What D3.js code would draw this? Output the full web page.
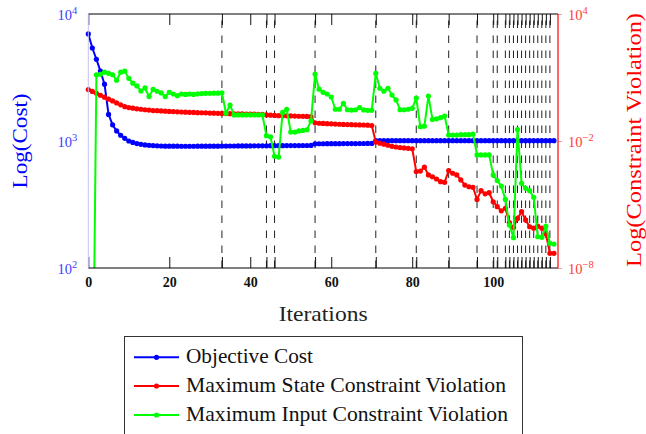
<!DOCTYPE html>
<html><head><meta charset="utf-8">
<script src="https://cdn.jsdelivr.net/npm/d3@7"></script>
<style>body{margin:0;background:#fff}svg{display:block}</style>
</head><body>
<svg id="chart" width="646" height="434"></svg>
<script>
// ---------------- data ----------------
const iterations = d3.range(0, 116);
const objectiveCost = [
 6970,5400,4400,3550,2800,1620,1340,1200,1110,1050,
 1000,975,955,942,932,925,920,916,913,911,
 910,910,910,909,909,909,909,910,910,910,
 910,910,910,
 912,912,913,913,914,914,915,915,916,916,917,917,918,918,919,919,920,920,921,921,922,922,923,
 950,951,951,952,952,953,953,954,954,955,955,956,956,957,957,
 1005,1005,1005,1005,1005,1005,1005,1005,1005,1005,
 1005,1005,1005,1005,1005,1005,1005,1005,1005,1005,
 1005,1005,1005,1005,1005,1005,1005,1005,1005,1005,
 1005,1005,1005,1005,1005,1005,1005,1005,1005,1005,
 1005,1005,1005,1005,1005
];
const stateViolation = [
 2.7,2.2,1.8,1.45,1.17,0.95,0.78,0.63,0.51,0.42,
 0.38,0.355,0.33,0.316,0.30,0.29,0.275,0.27,0.263,0.257,
 0.25,0.245,0.24,0.234,0.229,0.226,0.224,0.219,0.216,0.214,
 0.209,0.207,0.204,0.2,0.197,0.195,0.193,0.19,0.19,0.188,
 0.186,0.186,0.184,0.182,0.17,0.166,0.162,0.158,0.157,0.155,
 0.153,0.151,0.148,0.146,0.145,0.141,0.072,0.069,0.068,0.066,
 0.065,0.063,0.062,0.061,0.060,0.059,0.058,0.0575,0.057,0.056,
 0.054,0.0089,0.0079,0.0071,0.0063,0.0056,0.0052,0.0049,0.0047,0.0045,
 0.0043,3.6e-4,3.8e-4,5.8e-4,2.5e-4,2.05e-4,1.6e-4,1.2e-4,1.12e-4,4.0e-4,
 3.0e-4,2.5e-4,1.45e-4,8.3e-5,6.9e-5,6.5e-5,1.74e-5,4.5e-5,3.2e-5,3.6e-5,
 1.35e-5,7.9e-6,5.0e-6,6.6e-6,1.38e-6,8.3e-7,2.2e-6,4.6e-6,1.86e-6,8.9e-7,
 7.6e-7,9.5e-7,7.6e-7,4.1e-7,4.9e-8,4.9e-8
];
const inputViolation = [
 null,1e-17,13.5,14.1,17.8,15.8,13.5,7.4,17.8,20,
 9.1,5.4,4.0,2.3,3.2,1.26,2.75,2.24,1.86,1.26,
 2.0,1.66,1.38,1.66,1.58,1.66,1.58,1.7,1.74,1.78,
 1.78,1.82,1.82,1.9,0.204,0.5,0.17,0.17,0.17,0.17,
 0.17,0.17,0.17,0.17,0.0178,0.0158,0.0019,0.00174,0.224,0.316,
 0.0263,0.0263,0.030,0.0316,0.034,0.089,14.5,2.8,2.0,1.66,
 1.2,0.316,0.316,0.6,0.30,0.29,0.30,0.38,0.295,0.28,
 0.28,15.8,3.1,2.24,3.1,1.48,0.87,0.30,0.30,0.316,
 0.35,1.07,0.047,0.05,1.32,0.105,0.112,0.126,0.15,0.019,
 0.019,0.019,0.02,0.02,0.02,0.0214,0.0022,0.0022,0.0022,0.0022,
 2.5e-4,1.35e-4,7.4e-5,1.74e-5,1.07e-6,2.7e-7,0.035,1e-4,5.8e-5,4.5e-5,
 2.2e-5,3.0e-7,2.8e-7,9.5e-7,1.48e-7,1.35e-7
];
const eventIterations = [33,44,46,56,71,81,89,96,100,101,103,104,105,106,107,108,109,110,111,112,113,114];
const xTicks = [0,20,40,60,80,100];
const leftTicks = [1e2,1e3,1e4];
const leftExp = ["2","3","4"];
const rightTicks = [1e-8,1e-2,1e4];
const rightExp = ["\u22128","\u22122","4"];
const seriesNames = ["Objective Cost","Maximum State Constraint Violation","Maximum Input Constraint Violation"];
const seriesColors = ["#0000ff","#ff0000","#00ff00"];

// ---------------- layout ----------------
const L = 88.3, R = 558, T = 14, B = 268;
const serif = "'Liberation Serif','Times New Roman',serif";
const svg = d3.select("#chart");
const x = d3.scaleLinear().domain([0,116]).range([L,R]);
const yL = d3.scaleLog().domain([1e2,1e4]).range([B,T]);
const yR = d3.scaleLog().domain([1e-8,1e4]).range([B,T]);
const allXTicks = Array.from(new Set(xTicks.concat(eventIterations))).sort((a,b)=>a-b);

svg.append("defs").append("clipPath").attr("id","plotclip")
  .append("rect").attr("x",L).attr("y",T).attr("width",R-L).attr("height",B-T);

// dashed event grid lines
svg.append("g").selectAll("line").data(eventIterations).join("line")
  .attr("x1",d=>x(d)).attr("x2",d=>x(d)).attr("y1",B).attr("y2",T)
  .attr("stroke","#222").attr("stroke-width",1).attr("stroke-dasharray","7.5,7.5");

// x axes (bottom with labels, top without)
const xb = svg.append("g").attr("transform",`translate(0,${B})`)
  .call(d3.axisBottom(x).tickValues(allXTicks).tickSizeInner(-11).tickSizeOuter(0)
        .tickFormat(d=>xTicks.includes(d)?d:""));
xb.select(".domain").remove();
xb.selectAll(".tick line").attr("stroke","#111").attr("stroke-width",1);
xb.selectAll("text").attr("y",19).attr("dy",0).attr("font-family",serif).attr("font-size",14)
  .attr("font-weight","bold").attr("fill","#111");
const xt = svg.append("g").attr("transform",`translate(0,${T})`)
  .call(d3.axisTop(x).tickValues(allXTicks).tickSizeInner(-11).tickSizeOuter(0).tickFormat(""));
xt.select(".domain").remove();
xt.selectAll(".tick line").attr("stroke","#111").attr("stroke-width",1);

// left axis labels
const yl = svg.append("g").attr("transform",`translate(${L},0)`)
  .call(d3.axisLeft(yL).tickValues(leftTicks).tickSize(0).tickPadding(11).tickFormat(""));
yl.select(".domain").remove();
yl.selectAll(".tick text").each(function(d,i){
  const t = d3.select(this).attr("dy",5.5).attr("font-family",serif).attr("font-size",14.5).attr("fill","#3c3cff");
  t.append("tspan").text("10");
  t.append("tspan").attr("dy",-6).attr("font-size",10.5).text(leftExp[i]);
});
// right axis labels
const yr = svg.append("g").attr("transform",`translate(${R},0)`)
  .call(d3.axisRight(yR).tickValues(rightTicks).tickSizeInner(4).tickSizeOuter(0).tickPadding(6).tickFormat(""));
yr.select(".domain").remove();
yr.selectAll(".tick line").attr("stroke","#ff9a9a");
yr.selectAll(".tick text").each(function(d,i){
  const t = d3.select(this).attr("dy",5.5).attr("font-family",serif).attr("font-size",14.5).attr("fill","#ff3c3c");
  t.append("tspan").text("10");
  t.append("tspan").attr("dy",-6).attr("font-size",10.5).text(rightExp[i]);
});

// series
function drawSeries(values, yScale, color){
  const pts = iterations.map((it,i)=>({it, v: values[i]})).filter(d=>d.v!=null);
  const line = d3.line().x(d=>x(d.it)).y(d=>yScale(d.v));
  svg.append("path").datum(pts).attr("clip-path","url(#plotclip)")
    .attr("d",line).attr("fill","none").attr("stroke",color).attr("stroke-width",2).attr("stroke-linejoin","round");
  const dom = yScale.domain();
  svg.append("g").selectAll("circle").data(pts.filter(d=>d.v>=dom[0]&&d.v<=dom[1])).join("circle")
    .attr("cx",d=>x(d.it)).attr("cy",d=>yScale(d.v)).attr("r",2.6).attr("fill",color);
}
drawSeries(objectiveCost, yL, seriesColors[0]);
drawSeries(stateViolation, yR, seriesColors[1]);
drawSeries(inputViolation, yR, seriesColors[2]);

// frame
svg.append("line").attr("x1",L).attr("x2",R).attr("y1",T).attr("y2",T).attr("stroke","#000").attr("stroke-width",1);
svg.append("line").attr("x1",L).attr("x2",R).attr("y1",B).attr("y2",B).attr("stroke","#000").attr("stroke-width",1);
svg.append("line").attr("x1",L).attr("x2",L).attr("y1",T).attr("y2",B).attr("stroke","#c4c4f4").attr("stroke-width",1);
svg.append("line").attr("x1",R).attr("x2",R).attr("y1",T).attr("y2",B).attr("stroke","#ff0000").attr("stroke-width",1.2);

// titles
svg.append("text").attr("transform","translate(27,141) rotate(-90)").attr("text-anchor","middle")
  .attr("font-family",serif).attr("font-size",22).attr("fill","#0000ff")
  .attr("textLength",95).attr("lengthAdjust","spacingAndGlyphs").text("Log(Cost)");
svg.append("text").attr("transform","translate(641,140) rotate(-90)").attr("text-anchor","middle")
  .attr("font-family",serif).attr("font-size",21).attr("fill","#ff0000")
  .attr("textLength",254).attr("lengthAdjust","spacingAndGlyphs").text("Log(Constraint Violation)");
svg.append("text").attr("x",(L+R)/2).attr("y",320.5).attr("text-anchor","middle")
  .attr("font-family",serif).attr("font-size",22).attr("fill","#222")
  .attr("textLength",89).attr("lengthAdjust","spacingAndGlyphs").text("Iterations");

// legend
const lg = svg.append("g");
lg.append("rect").attr("x",124.5).attr("y",336.5).attr("width",398).attr("height",130)
  .attr("fill","#fff").attr("stroke","#333").attr("stroke-width",1);
const entryY = [357.3,386,415];
const entryW = [127,320,322];
seriesNames.forEach((name,i)=>{
  lg.append("line").attr("x1",134).attr("x2",179).attr("y1",entryY[i]).attr("y2",entryY[i])
    .attr("stroke",seriesColors[i]).attr("stroke-width",2);
  lg.append("circle").attr("cx",156.5).attr("cy",entryY[i]).attr("r",2.6).attr("fill",seriesColors[i]);
  lg.append("text").attr("x",186).attr("y",entryY[i]+5.5).attr("font-family",serif).attr("font-size",21)
    .attr("fill","#111").attr("textLength",entryW[i]).attr("lengthAdjust","spacingAndGlyphs").text(name);
});
</script>
</body></html>
